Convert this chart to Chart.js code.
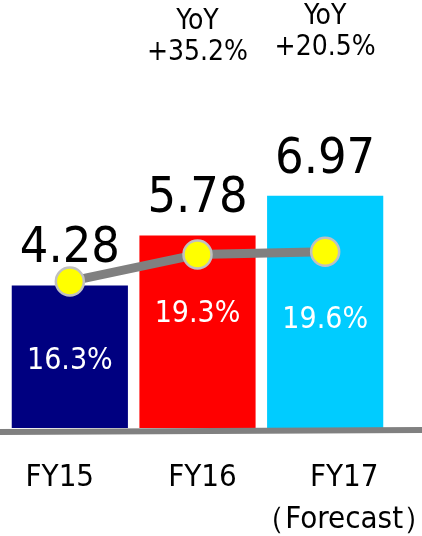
<!DOCTYPE html>
<html>
<head>
<meta charset="utf-8">
<script src="https://cdn.jsdelivr.net/npm/chart.js@4/dist/chart.umd.min.js"></script>
<style>
  html, body { margin: 0; padding: 0; background: #fff; }
  #wrap { width: 422px; height: 536px; }
</style>
</head>
<body>
<div id="wrap"><canvas id="chart"></canvas></div>
<script>
const categories = [['FY15'], ['FY16'], ['FY17', '（Forecast）']];
const sales = [4.28, 5.78, 6.97];
const margins = [16.3, 19.3, 19.6];
const yoyLabels = [null, '+35.2%', '+20.5%'];
const barColors = ['#000080', '#ff0000', '#00ccff'];

const FONT = '"DejaVu Sans Condensed", "DejaVu Sans", sans-serif';

// text drawn on top of the chart
const labelPlugin = {
    id: 'labels',
    afterDatasetsDraw(chart) {
        const ctx = chart.ctx;
        const x = chart.scales.x;
        const y = chart.scales.y;
        const y2 = chart.scales.y2;
        const base = y.getPixelForValue(0);
        ctx.save();

        // axis line across the whole width
        ctx.strokeStyle = '#808080';
        ctx.lineWidth = 6;
        ctx.beginPath();
        ctx.moveTo(0, base + 4);
        ctx.lineTo(chart.width, base + 2);
        ctx.stroke();

        ctx.textAlign = 'center';
        const pctShift = [80, 60, 68]; // margin label below the point

        sales.forEach((v, i) => {
            const cx = x.getPixelForValue(i);
            // sales value above bar
            ctx.fillStyle = '#000';
            ctx.textBaseline = 'alphabetic';
            ctx.font = '50px ' + FONT;
            ctx.fillText(v.toFixed(2), cx, y.getPixelForValue(v) - 23);

            // margin inside bar
            ctx.fillStyle = '#fff';
            ctx.textBaseline = 'middle';
            ctx.font = '30px ' + FONT;
            ctx.fillText(margins[i].toFixed(1) + '%', cx, y2.getPixelForValue(margins[i]) + pctShift[i]);

            // YoY
            if (yoyLabels[i]) {
                ctx.fillStyle = '#000';
                ctx.font = '28px ' + FONT;
                const top = i === 1 ? 22 : 17;
                ctx.fillText('YoY', cx, top);
                ctx.fillText(yoyLabels[i], cx, top + 31);
            }

            // category labels
            ctx.fillStyle = '#000';
            ctx.font = '31px ' + FONT;
            const shift = [-10, 5, 19][i];
            categories[i].forEach((line, j) => {
                ctx.fillText(line, cx + shift, base + 50 + j * 42);
            });
        });
        ctx.restore();
    }
};

new Chart(document.getElementById('chart'), {
    data: {
        labels: categories.map(c => c[0]),
        datasets: [
            {
                type: 'line',
                data: margins,
                yAxisID: 'y2',
                order: 0,
                borderColor: '#808080',
                borderWidth: 9,
                pointRadius: 14,
                pointBorderWidth: 2.5,
                pointBackgroundColor: '#ffff00',
                pointBorderColor: '#c0c0c0',
                tension: 0
            },
            {
                type: 'bar',
                data: sales,
                yAxisID: 'y',
                order: 1,
                backgroundColor: barColors,
                barPercentage: 0.91,
                categoryPercentage: 1
            }
        ]
    },
    options: {
        responsive: true,
        maintainAspectRatio: false,
        animation: false,
        layout: { autoPadding: false, padding: { left: 6, right: 33, top: 0, bottom: 108 } },
        plugins: { legend: { display: false }, tooltip: { enabled: false } },
        scales: {
            x: { display: false },
            y: { display: false, min: 0, max: 12.85 },
            y2: { display: false, min: 0, max: 47.6 }
        }
    },
    plugins: [labelPlugin]
});
</script>
</body>
</html>
